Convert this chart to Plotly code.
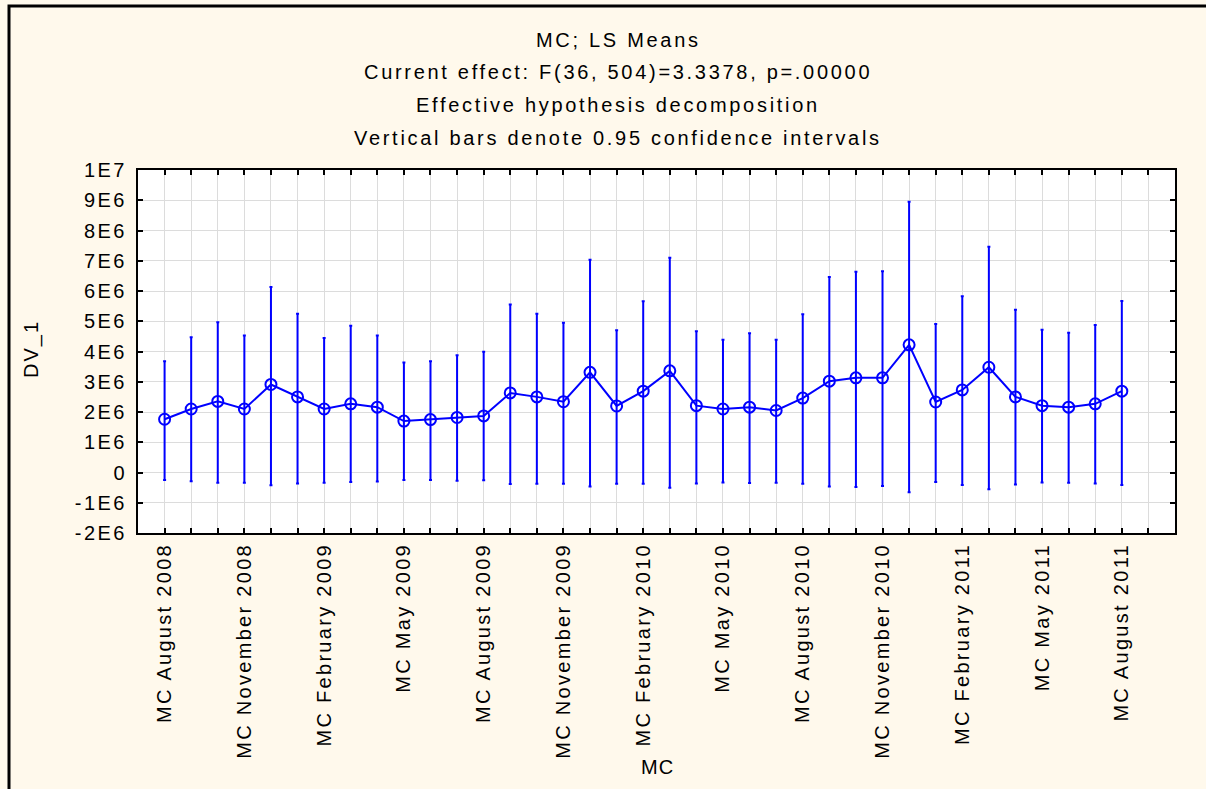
import plotly.graph_objects as go

# Levels of factor MC (monthly, Aug 2008 - Aug 2011)
months = [
    "MC August 2008", "MC September 2008", "MC October 2008", "MC November 2008",
    "MC December 2008", "MC January 2009", "MC February 2009", "MC March 2009",
    "MC April 2009", "MC May 2009", "MC June 2009", "MC July 2009",
    "MC August 2009", "MC September 2009", "MC October 2009", "MC November 2009",
    "MC December 2009", "MC January 2010", "MC February 2010", "MC March 2010",
    "MC April 2010", "MC May 2010", "MC June 2010", "MC July 2010",
    "MC August 2010", "MC September 2010", "MC October 2010", "MC November 2010",
    "MC December 2010", "MC January 2011", "MC February 2011", "MC March 2011",
    "MC April 2011", "MC May 2011", "MC June 2011", "MC July 2011",
    "MC August 2011",
]

# LS means of DV_1 with 0.95 confidence limits
ls_means = [
    1.76e6, 2.10e6, 2.35e6, 2.10e6, 2.91e6, 2.50e6, 2.10e6, 2.27e6, 2.16e6,
    1.70e6, 1.75e6, 1.82e6, 1.87e6, 2.63e6, 2.50e6, 2.34e6, 3.31e6, 2.20e6,
    2.69e6, 3.36e6, 2.21e6, 2.10e6, 2.16e6, 2.05e6, 2.46e6, 3.02e6, 3.13e6,
    3.13e6, 4.22e6, 2.33e6, 2.73e6, 3.48e6, 2.50e6, 2.21e6, 2.16e6, 2.27e6,
    2.69e6,
]
ci_upper = [
    3.68e6, 4.47e6, 4.97e6, 4.53e6, 6.13e6, 5.25e6, 4.45e6, 4.85e6, 4.53e6,
    3.64e6, 3.68e6, 3.88e6, 3.99e6, 5.55e6, 5.25e6, 4.95e6, 7.03e6, 4.70e6,
    5.66e6, 7.10e6, 4.67e6, 4.39e6, 4.60e6, 4.39e6, 5.23e6, 6.46e6, 6.64e6,
    6.65e6, 8.95e6, 4.91e6, 5.83e6, 7.46e6, 5.38e6, 4.72e6, 4.62e6, 4.88e6,
    5.67e6,
]
ci_lower = [
    -0.25e6, -0.29e6, -0.34e6, -0.34e6, -0.42e6, -0.36e6, -0.34e6, -0.31e6, -0.30e6,
    -0.25e6, -0.25e6, -0.27e6, -0.26e6, -0.38e6, -0.37e6, -0.37e6, -0.46e6, -0.37e6,
    -0.37e6, -0.50e6, -0.36e6, -0.33e6, -0.35e6, -0.34e6, -0.37e6, -0.46e6, -0.48e6,
    -0.45e6, -0.65e6, -0.31e6, -0.41e6, -0.55e6, -0.40e6, -0.33e6, -0.34e6, -0.36e6,
    -0.41e6,
]

# y-axis ticks in the E-notation used by the plot
y_tickvals = [-2e6, -1e6, 0, 1e6, 2e6, 3e6, 4e6, 5e6, 6e6, 7e6, 8e6, 9e6, 1e7]
y_ticktext = ["-2E6", "-1E6", "0", "1E6", "2E6", "3E6", "4E6", "5E6",
              "6E6", "7E6", "8E6", "9E6", "1E7"]

title_lines = [
    "MC; LS Means",
    "Current effect: F(36, 504)=3.3378, p=.00000",
    "Effective hypothesis decomposition",
    "Vertical bars denote 0.95 confidence intervals",
]

BLUE = "#0000FF"
FONT = "Liberation Sans, Arial, sans-serif"


def spaced(text, px):
    """Wrap text in a span with extra letter spacing (wide Statistica-style lettering)."""
    if not text:
        return text
    return '<span style="letter-spacing:%.1fpx">%s</span>' % (px, text)


pos = list(range(len(months)))
err_plus = [u - m for u, m in zip(ci_upper, ls_means)]
err_minus = [m - l for m, l in zip(ls_means, ci_lower)]

fig = go.Figure()
fig.add_trace(go.Scatter(
    x=pos,
    y=ls_means,
    mode="lines+markers",
    line=dict(color=BLUE, width=2),
    marker=dict(symbol="circle-open", size=11, color=BLUE, line=dict(width=2, color=BLUE)),
    error_y=dict(type="data", symmetric=False, array=err_plus, arrayminus=err_minus,
                 color=BLUE, thickness=2, width=1.5),
    hovertext=months,
    showlegend=False,
))

# every month gets a tick and a grid line; only each third month is labelled
n_ticks = len(months) + 1
x_tickvals = list(range(n_ticks))
x_ticktext = [spaced(months[i], 2.3) if (i < len(months) and i % 3 == 0) else ""
              for i in x_tickvals]

W, H = 1206, 789
L, R, T, B = 138, 31, 170, 256
plot_h = H - T - B
plot_w = W - L - R


def px_x(px):
    return (px - L) / plot_w


def px_y(py):
    return (H - B - py) / plot_h


annotations = []
for line, py in zip(title_lines, [40, 72, 105, 138]):
    annotations.append(dict(
        text=spaced(line, 2.7), x=px_x(618), y=px_y(py), xref="paper", yref="paper",
        xanchor="center", yanchor="middle", showarrow=False,
        font=dict(family=FONT, size=20, color="black"),
    ))
annotations.append(dict(
    text=spaced("DV_1", 2.0), x=px_x(31), y=px_y(349), xref="paper", yref="paper",
    xanchor="center", yanchor="middle", textangle=-90, showarrow=False,
    font=dict(family=FONT, size=20, color="black"),
))
annotations.append(dict(
    text=spaced("MC", 1.0), x=px_x(657), y=px_y(767), xref="paper", yref="paper",
    xanchor="center", yanchor="middle", showarrow=False,
    font=dict(family=FONT, size=20, color="black"),
))

# window frame: only its top and left edges fall inside the figure
shapes = [
    dict(type="rect", xref="paper", yref="paper",
         x0=px_x(9), y0=px_y(6), x1=px_x(W + 30), y1=px_y(H + 30),
         line=dict(color="black", width=3), fillcolor="rgba(0,0,0,0)", layer="above"),
]

fig.update_layout(
    width=W, height=H,
    margin=dict(l=L, r=R, t=T, b=B, autoexpand=False),
    paper_bgcolor="#FFF9EC",
    plot_bgcolor="white",
    font=dict(family=FONT, size=20, color="black"),
    annotations=annotations,
    shapes=shapes,
)

fig.update_xaxes(
    range=[-1, len(months) + 1],
    tickmode="array", tickvals=x_tickvals, ticktext=x_ticktext,
    tickangle=-90,
    ticks="inside", ticklen=5, tickwidth=1.5, tickcolor="black",
    showgrid=True, gridcolor="#DCDCDC", gridwidth=1,
    showline=True, linecolor="black", linewidth=2, mirror="ticks",
    zeroline=False,
    tickfont=dict(family=FONT, size=20, color="black"),
)
fig.update_yaxes(
    range=[-2e6, 1e7],
    tickmode="array", tickvals=y_tickvals,
    ticktext=[spaced(t, 2.5) for t in y_ticktext],
    ticks="inside", ticklen=5, tickwidth=1.5, tickcolor="black",
    showgrid=True, gridcolor="#DCDCDC", gridwidth=1,
    showline=True, linecolor="black", linewidth=2, mirror="ticks",
    zeroline=False, ticklabelstandoff=5,
    tickfont=dict(family=FONT, size=20, color="black"),
)

fig.write_html("out.html", config={"displayModeBar": False})
